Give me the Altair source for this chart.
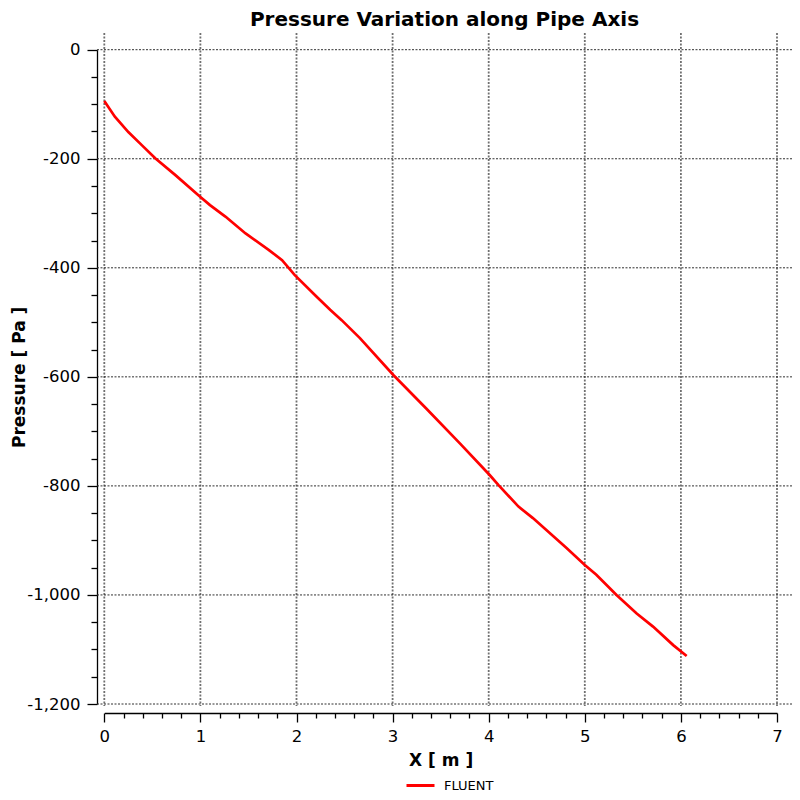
import altair as alt
import pandas as pd

# ---- data ----
x_m = [0.00, 0.11, 0.25, 0.39, 0.53, 0.74, 1.00, 1.10, 1.26, 1.47, 1.71, 1.85,
       1.98, 2.21, 2.35, 2.47, 2.66, 3.01, 3.35, 3.70, 4.01, 4.10, 4.31, 4.46,
       4.81, 5.00, 5.12, 5.33, 5.54, 5.71, 5.92, 6.06]
pressure = [-94, -123, -151, -175, -199, -230, -270, -285, -306, -337, -367, -386,
            -413, -453, -477, -496, -529, -597, -658, -722, -780, -798, -838, -859,
            -914, -945, -963, -1000, -1034, -1058, -1092, -1112]
series_name = "FLUENT"

x_grid = [0, 1, 2, 3, 4, 5, 6, 7]
y_grid = [0, -200, -400, -600, -800, -1000, -1200]
x_ticks = [round(i * 0.2, 1) for i in range(36)]
y_ticks = list(range(0, -1201, -50))

FONT = "DejaVu Sans"
W, H = 695, 673

df = pd.DataFrame({"x": x_m, "p": pressure, "series": [series_name] * len(x_m)})
xs = alt.Scale(domain=[0, 7], range=[7.3, 680], nice=False, zero=False)
ys = alt.Scale(domain=[-1200, 0], range=[671, 16.7], nice=False, zero=False)

x_axis = alt.Axis(
    values=x_ticks, title="X [ m ]", offset=7, grid=False,
    domainColor="black", domainWidth=1.3, tickColor="black", tickWidth=1.3,
    tickSize={"expr": "abs(datum.value - round(datum.value)) < 1e-6 ? 9 : 5"},
    labelExpr="abs(datum.value - round(datum.value)) < 1e-6 ? format(datum.value, 'd') : ''",
    labelOverlap=False, labelFlush=False, labelBound=False,
    labelFont=FONT, labelFontSize=16.5, labelColor="black", labelPadding=6,
    titleFont=FONT, titleFontSize=17, titleFontWeight="bold", titleColor="black",
    titlePadding=8,
)
y_axis = alt.Axis(
    values=y_ticks, title="Pressure [ Pa ]", grid=False,
    domainColor="black", domainWidth=1.3, tickColor="black", tickWidth=1.3,
    tickSize={"expr": "datum.value % 200 === 0 ? 10 : 6"},
    labelExpr="datum.value % 200 === 0 ? ((datum.value < 0 ? '-' : '') + format(abs(datum.value), ',')) : ''",
    labelOverlap=False, labelFlush=False, labelBound=False,
    labelFont=FONT, labelFontSize=16.5, labelColor="black", labelPadding=7,
    titleFont=FONT, titleFontSize=17, titleFontWeight="bold", titleColor="black",
    titlePadding=-2,
)

vgrid = alt.Chart(pd.DataFrame({"x": x_grid})).mark_rule(
    color="#707070", strokeWidth=1.8, strokeDash=[2, 1.5]
).encode(x=alt.X("x:Q", scale=xs, axis=x_axis))

hgrid = alt.Chart(pd.DataFrame({"y": y_grid})).mark_rule(
    color="#303030", strokeWidth=1, strokeDash=[2, 1.5]
).encode(y=alt.Y("y:Q", scale=ys, axis=y_axis))

line = alt.Chart(df).mark_line(strokeWidth=2.7).encode(
    x=alt.X("x:Q", scale=xs, axis=x_axis),
    y=alt.Y("p:Q", scale=ys, axis=y_axis),
    color=alt.Color(
        "series:N",
        scale=alt.Scale(domain=[series_name], range=["#ff0000"]),
        legend=alt.Legend(
            title=None, orient="none", legendX=308, legendY=737,
            symbolType="stroke", symbolSize=784, symbolStrokeWidth=3,
            labelFont=FONT, labelFontSize=13, labelOffset=8, labelColor="black",
        ),
    ),
)

chart = alt.layer(vgrid, hgrid, line).properties(
    width=W, height=H,
    autosize=alt.AutoSizeParams(type="none"),
    padding={"left": 89, "top": 25, "right": 0, "bottom": 86},
    title=alt.TitleParams(
        "Pressure Variation along Pipe Axis", font=FONT, fontSize=20,
        fontWeight="bold", anchor="middle", color="black", offset=2,
    ),
).configure_view(strokeOpacity=0)

chart.save("out.html", embed_options={"renderer": "svg", "actions": False})
